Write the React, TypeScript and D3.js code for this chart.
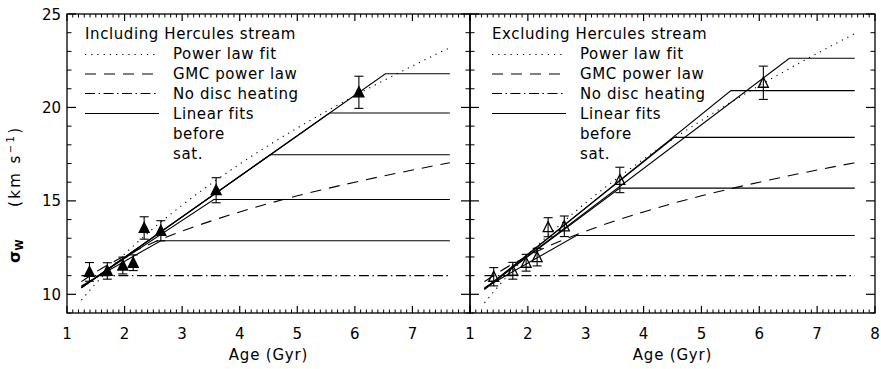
import React from 'react';
import * as d3 from 'd3';

// ---- data ----
const agesInc = [1.39, 1.7, 1.97, 2.15, 2.34, 2.63, 3.59, 6.07];
const sigmaInc = [11.2, 11.25, 11.54, 11.69, 13.55, 13.4, 15.57, 20.81];
const errInc = [0.5, 0.44, 0.45, 0.42, 0.6, 0.54, 0.67, 0.86];

const agesExc = [1.41, 1.74, 1.97, 2.16, 2.35, 2.63, 3.59, 6.07];
const sigmaExc = [10.94, 11.26, 11.69, 11.99, 13.59, 13.64, 16.12, 21.32];
const errExc = [0.49, 0.45, 0.45, 0.47, 0.51, 0.55, 0.68, 0.89];

// curves sampled along age
const curveAges = [1.25, 1.5, 2, 2.5, 3, 4, 5, 6, 7, 7.65];
const powerInc = [9.69, 10.58, 12.15, 13.53, 14.77, 16.97, 18.9, 20.63, 22.22, 23.2];
const powerExc = [9.54, 10.47, 12.12, 13.57, 14.89, 17.23, 19.3, 21.17, 22.89, 23.95];
const gmcInc = [10.68, 11.19, 12.05, 12.77, 13.38, 14.41, 15.27, 16.0, 16.65, 17.04];
const gmcExc = [10.68, 11.19, 12.05, 12.77, 13.38, 14.41, 15.27, 16.0, 16.65, 17.04];
const noHeatInc = 11;
const noHeatExc = 11;

// linear fits before saturation: start value, saturation age, saturation level
const fitStartAge = 1.25;
const fitEndAge = 7.65;
const fitStartInc = [10.45, 10.4, 10.35, 10.35, 10.35];
const satAgeInc = [2.63, 3.55, 4.53, 5.56, 6.53];
const satLevelInc = [12.87, 15.07, 17.47, 19.7, 21.8];
const fitStartExc = [10.35, 10.3, 10.3, 10.25, 10.3];
const satAgeExc = [2.84, 3.59, 4.53, 5.51, 6.52];
const satLevelExc = [13.15, 15.68, 18.4, 20.9, 22.63];

const xMajor = [1, 2, 3, 4, 5, 6, 7, 8];
const yMajor = [10, 15, 20, 25];
const legendLabels = ['Power law fit', 'GMC power law', 'No disc heating', 'Linear fits', 'before', 'sat.'];

const FONT = '"DejaVu Sans", Verdana, sans-serif';
const TOP = 14;
const BOTTOM = 313;

const y = d3.scaleLinear().domain([9, 25]).range([BOTTOM, TOP]);

function Panel(props: any) {
  const { left, right, title, ages, sigma, err, power, gmc, noHeat, fitStart, satAge, satLevel,
    filled, showYLabels, xLabels, legendX, legendTextX } = props;
  const x = d3.scaleLinear().domain([1, 8]).range([left, right]);

  const curve = d3.line<number>()
    .x((_, i) => x(curveAges[i]))
    .y(d => y(d))
    .curve(d3.curveMonotoneX);
  const straight = d3.line<[number, number]>().x(d => x(d[0])).y(d => y(d[1]));

  const xMinor = d3.range(10, 80).map(v => v / 10).filter(v => Math.abs(v - Math.round(v)) > 0.01);
  const yMinor = d3.range(9, 26).filter(v => !yMajor.includes(v));

  return (
    <g>
      {/* frame */}
      <rect x={left} y={TOP} width={right - left} height={BOTTOM - TOP} fill="none" stroke="#000" strokeWidth={1.3} />

      {/* x ticks bottom/top */}
      {xMajor.map(v => (
        <g key={'xm' + v}>
          <line x1={x(v)} x2={x(v)} y1={BOTTOM} y2={BOTTOM - 7} stroke="#000" strokeWidth={1.2} />
          <line x1={x(v)} x2={x(v)} y1={TOP} y2={TOP + 7} stroke="#000" strokeWidth={1.2} />
        </g>
      ))}
      {xMinor.map(v => (
        <g key={'xn' + v}>
          <line x1={x(v)} x2={x(v)} y1={BOTTOM} y2={BOTTOM - 3.5} stroke="#000" strokeWidth={1} />
          <line x1={x(v)} x2={x(v)} y1={TOP} y2={TOP + 3.5} stroke="#000" strokeWidth={1} />
        </g>
      ))}
      {/* y ticks left/right */}
      {yMajor.map(v => (
        <g key={'ym' + v}>
          <line x1={left} x2={left + 9} y1={y(v)} y2={y(v)} stroke="#000" strokeWidth={1.2} />
          <line x1={right} x2={right - 9} y1={y(v)} y2={y(v)} stroke="#000" strokeWidth={1.2} />
        </g>
      ))}
      {yMinor.map(v => (
        <g key={'yn' + v}>
          <line x1={left} x2={left + 4.5} y1={y(v)} y2={y(v)} stroke="#000" strokeWidth={1} />
          <line x1={right} x2={right - 4.5} y1={y(v)} y2={y(v)} stroke="#000" strokeWidth={1} />
        </g>
      ))}

      {/* tick labels */}
      {xLabels.map((v: number) => (
        <text key={'xl' + v} x={x(v)} y={339} textAnchor="middle" fontSize={15} fontFamily={FONT}>{v}</text>
      ))}
      {showYLabels && yMajor.map(v => (
        <text key={'yl' + v} x={left - 6} y={y(v) + 5.5} textAnchor="end" fontSize={15} fontFamily={FONT}>{v}</text>
      ))}
      <text x={(left + right) / 2} y={360} textAnchor="middle" fontSize={15} fontFamily={FONT} letterSpacing={0.8}>Age (Gyr)</text>

      {/* model curves */}
      <path d={curve(power) || ''} fill="none" stroke="#000" strokeWidth={1.1} strokeDasharray="1.2 5" />
      <path d={curve(gmc) || ''} fill="none" stroke="#000" strokeWidth={1.1} strokeDasharray="11 8" />
      <path d={straight([[fitStartAge, noHeat], [fitEndAge, noHeat]]) || ''} fill="none" stroke="#000" strokeWidth={1.1} strokeDasharray="10 3.5 1.5 3.5" />
      {fitStart.map((s: number, i: number) => (
        <path key={'fit' + i}
          d={straight([[fitStartAge, s], [satAge[i], satLevel[i]], [fitEndAge, satLevel[i]]]) || ''}
          fill="none" stroke="#000" strokeWidth={1.1} />
      ))}

      {/* data points */}
      {ages.map((a: number, i: number) => {
        const cx = x(a), cy = y(sigma[i]);
        const yt = y(sigma[i] + err[i]), yb = y(sigma[i] - err[i]);
        return (
          <g key={'pt' + i}>
            <line x1={cx} x2={cx} y1={yt} y2={yb} stroke="#000" strokeWidth={1.1} />
            <line x1={cx - 4.5} x2={cx + 4.5} y1={yt} y2={yt} stroke="#000" strokeWidth={1.1} />
            <line x1={cx - 4.5} x2={cx + 4.5} y1={yb} y2={yb} stroke="#000" strokeWidth={1.1} />
            <path d={`M${cx - 5},${cy + 4.5}L${cx},${cy - 5.5}L${cx + 5},${cy + 4.5}Z`}
              fill={filled ? '#000' : '#fff'} fillOpacity={filled ? 1 : 0} stroke="#000" strokeWidth={1.3} />
          </g>
        );
      })}

      {/* legend */}
      <text x={legendX} y={39} fontSize={15} fontFamily={FONT} letterSpacing={0.6}>{title}</text>
      {legendLabels.map((lab, i) => (
        <text key={'lg' + i} x={legendTextX} y={59 + i * 20} fontSize={15} fontFamily={FONT} letterSpacing={0.6}>{lab}</text>
      ))}
      <line x1={legendX} x2={legendX + 74} y1={54.5} y2={54.5} stroke="#000" strokeWidth={1.1} strokeDasharray="1.2 5" />
      <line x1={legendX} x2={legendX + 74} y1={74} y2={74} stroke="#000" strokeWidth={1.1} strokeDasharray="11 8" />
      <line x1={legendX} x2={legendX + 74} y1={93.5} y2={93.5} stroke="#000" strokeWidth={1.1} strokeDasharray="10 3.5 1.5 3.5" />
      <line x1={legendX} x2={legendX + 74} y1={113.5} y2={113.5} stroke="#000" strokeWidth={1.1} />
    </g>
  );
}

// rotated y-axis title: sigma_W, then the unit further up
function YTitle() {
  const bx = 20;
  return (
    <g fontFamily={FONT}>
      <text transform={`translate(${bx},263) rotate(-90)`} fontSize={16} fontWeight="bold">
        σ<tspan fontSize={10} dy={3}>W</tspan>
      </text>
      <text transform={`translate(${bx},207) rotate(-90)`} fontSize={15} letterSpacing={2.4}>
        (km s<tspan fontSize={10} dy={-6}>−1</tspan><tspan dy={6}>)</tspan>
      </text>
    </g>
  );
}

export default function App() {
  return (
    <svg width={881} height={369} style={{ position: 'absolute', left: 0, top: 0, background: '#fff' }}>
      <Panel left={67} right={470} title="Including Hercules stream"
        ages={agesInc} sigma={sigmaInc} err={errInc}
        power={powerInc} gmc={gmcInc} noHeat={noHeatInc}
        fitStart={fitStartInc} satAge={satAgeInc} satLevel={satLevelInc}
        filled={true} showYLabels={true} xLabels={[1, 2, 3, 4, 5, 6, 7]}
        legendX={85} legendTextX={173} />
      <Panel left={470} right={875} title="Excluding Hercules stream"
        ages={agesExc} sigma={sigmaExc} err={errExc}
        power={powerExc} gmc={gmcExc} noHeat={noHeatExc}
        fitStart={fitStartExc} satAge={satAgeExc} satLevel={satLevelExc}
        filled={false} showYLabels={false} xLabels={[1, 2, 3, 4, 5, 6, 7, 8]}
        legendX={492} legendTextX={580} />
      <YTitle />
    </svg>
  );
}
